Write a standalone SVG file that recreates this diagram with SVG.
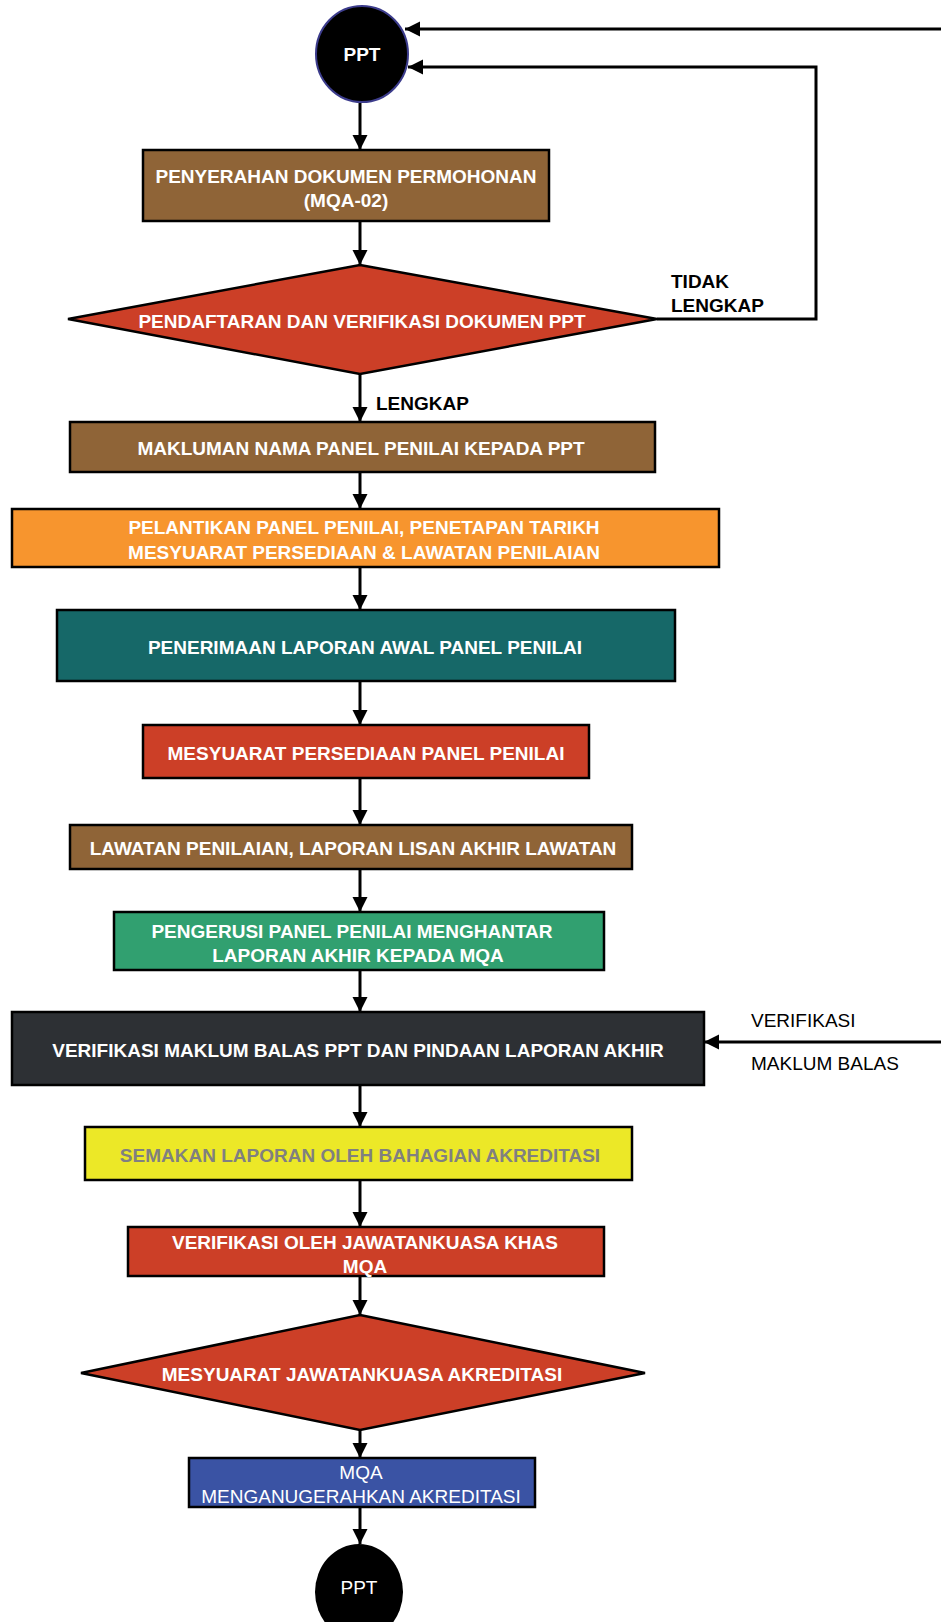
<svg xmlns="http://www.w3.org/2000/svg" width="941" height="1622" viewBox="0 0 941 1622">
<style>
.box{stroke:#000;stroke-width:2.5}
.t{font-family:"Liberation Sans",Arial,sans-serif;font-size:19px;font-weight:bold;fill:#fff;text-anchor:middle;dominant-baseline:central}
.n{font-weight:normal}
.lbl{font-family:"Liberation Sans",Arial,sans-serif;font-size:19px;fill:#000;dominant-baseline:central}
.c{fill:none;stroke:#000;stroke-width:3}
</style>
<defs>
<marker id="ah" markerUnits="userSpaceOnUse" markerWidth="17" markerHeight="17" refX="15" refY="7.5" orient="auto">
<path d="M0,0 L15,7.5 L0,15 z" fill="#000"/>
</marker>
</defs>
<rect width="941" height="1622" fill="#fff"/>
<g id="connectors">
<path class="c" d="M360,103 V150" marker-end="url(#ah)"/>
<path class="c" d="M360,221 V265" marker-end="url(#ah)"/>
<path class="c" d="M360,374 V422" marker-end="url(#ah)"/>
<path class="c" d="M360,472 V509" marker-end="url(#ah)"/>
<path class="c" d="M360,567 V610" marker-end="url(#ah)"/>
<path class="c" d="M360,681 V725" marker-end="url(#ah)"/>
<path class="c" d="M360,778 V825" marker-end="url(#ah)"/>
<path class="c" d="M360,869 V912" marker-end="url(#ah)"/>
<path class="c" d="M360,970 V1012" marker-end="url(#ah)"/>
<path class="c" d="M360,1085 V1127" marker-end="url(#ah)"/>
<path class="c" d="M360,1180 V1227" marker-end="url(#ah)"/>
<path class="c" d="M360,1276 V1315" marker-end="url(#ah)"/>
<path class="c" d="M360,1430 V1458" marker-end="url(#ah)"/>
<path class="c" d="M360,1507 V1544" marker-end="url(#ah)"/>
<path class="c" d="M941,29 H405" marker-end="url(#ah)"/>
<path class="c" d="M657,319 H816 V67 H408" marker-end="url(#ah)"/>
<path class="c" d="M941,1042 H704" marker-end="url(#ah)"/>
<text class="lbl" x="671" y="281" font-weight="bold">TIDAK</text>
<text class="lbl" x="671" y="305" font-weight="bold">LENGKAP</text>
<text class="lbl" x="376" y="403" font-weight="bold">LENGKAP</text>
<text class="lbl" x="751" y="1020">VERIFIKASI</text>
<text class="lbl" x="751" y="1063">MAKLUM BALAS</text>
</g>
<g id="start">
<ellipse cx="362" cy="54" rx="46" ry="48" fill="#000" stroke="#3c3c8c" stroke-width="2"/>
<text class="t" x="362" y="54" font-size="24">PPT</text>
</g>
<g id="n1">
<rect class="box" x="143" y="150" width="406" height="71" fill="#8f6437"/>
<text class="t" x="346" y="176">PENYERAHAN DOKUMEN PERMOHONAN</text>
<text class="t" x="346" y="200">(MQA-02)</text>
</g>
<g id="d1">
<polygon class="box" points="360,265 657,319 360,374 68,319" fill="#cc3f27"/>
<text class="t" x="362" y="321">PENDAFTARAN DAN VERIFIKASI DOKUMEN PPT</text>
</g>
<g id="n2">
<rect class="box" x="70" y="422" width="585" height="50" fill="#8f6437"/>
<text class="t" x="361" y="448">MAKLUMAN NAMA PANEL PENILAI KEPADA PPT</text>
</g>
<g id="n3">
<rect class="box" x="12" y="509" width="707" height="58" fill="#f7952e"/>
<text class="t" x="364" y="527">PELANTIKAN PANEL PENILAI, PENETAPAN TARIKH</text>
<text class="t" x="364" y="552">MESYUARAT PERSEDIAAN &amp; LAWATAN PENILAIAN</text>
</g>
<g id="n4">
<rect class="box" x="57" y="610" width="618" height="71" fill="#166868"/>
<text class="t" x="365" y="647">PENERIMAAN LAPORAN AWAL PANEL PENILAI</text>
</g>
<g id="n5">
<rect class="box" x="143" y="725" width="446" height="53" fill="#cc3f27"/>
<text class="t" x="366" y="753">MESYUARAT PERSEDIAAN PANEL PENILAI</text>
</g>
<g id="n6">
<rect class="box" x="70" y="825" width="562" height="44" fill="#8f6437"/>
<text class="t" x="353" y="848">LAWATAN PENILAIAN, LAPORAN LISAN AKHIR LAWATAN</text>
</g>
<g id="n7">
<rect class="box" x="114" y="912" width="490" height="58" fill="#31a070"/>
<text class="t" x="352" y="931">PENGERUSI PANEL PENILAI MENGHANTAR</text>
<text class="t" x="358" y="955">LAPORAN AKHIR KEPADA MQA</text>
</g>
<g id="n8">
<rect class="box" x="12" y="1012" width="692" height="73" fill="#2d3034"/>
<text class="t" x="358" y="1050">VERIFIKASI MAKLUM BALAS PPT DAN PINDAAN LAPORAN AKHIR</text>
</g>
<g id="n9">
<rect class="box" x="85" y="1127" width="547" height="53" fill="#ece827"/>
<text class="t" x="360" y="1155" style="fill:#808080">SEMAKAN LAPORAN OLEH BAHAGIAN AKREDITASI</text>
</g>
<g id="n10">
<rect class="box" x="128" y="1227" width="476" height="49" fill="#cc3f27"/>
<text class="t" x="365" y="1242">VERIFIKASI OLEH JAWATANKUASA KHAS</text>
<text class="t" x="365" y="1266">MQA</text>
</g>
<g id="d2">
<polygon class="box" points="360,1315 645,1373 360,1430 81,1373" fill="#cc3f27"/>
<text class="t" x="362" y="1374">MESYUARAT JAWATANKUASA AKREDITASI</text>
</g>
<g id="n11">
<rect class="box" x="189" y="1458" width="346" height="49" fill="#3a53a4"/>
<text class="t n" x="361" y="1472">MQA</text>
<text class="t n" x="361" y="1496">MENGANUGERAHKAN AKREDITASI</text>
</g>
<g id="end">
<ellipse cx="359" cy="1592" rx="44" ry="48" fill="#000"/>
<text class="t n" x="359" y="1587" font-size="24">PPT</text>
</g>
</svg>
